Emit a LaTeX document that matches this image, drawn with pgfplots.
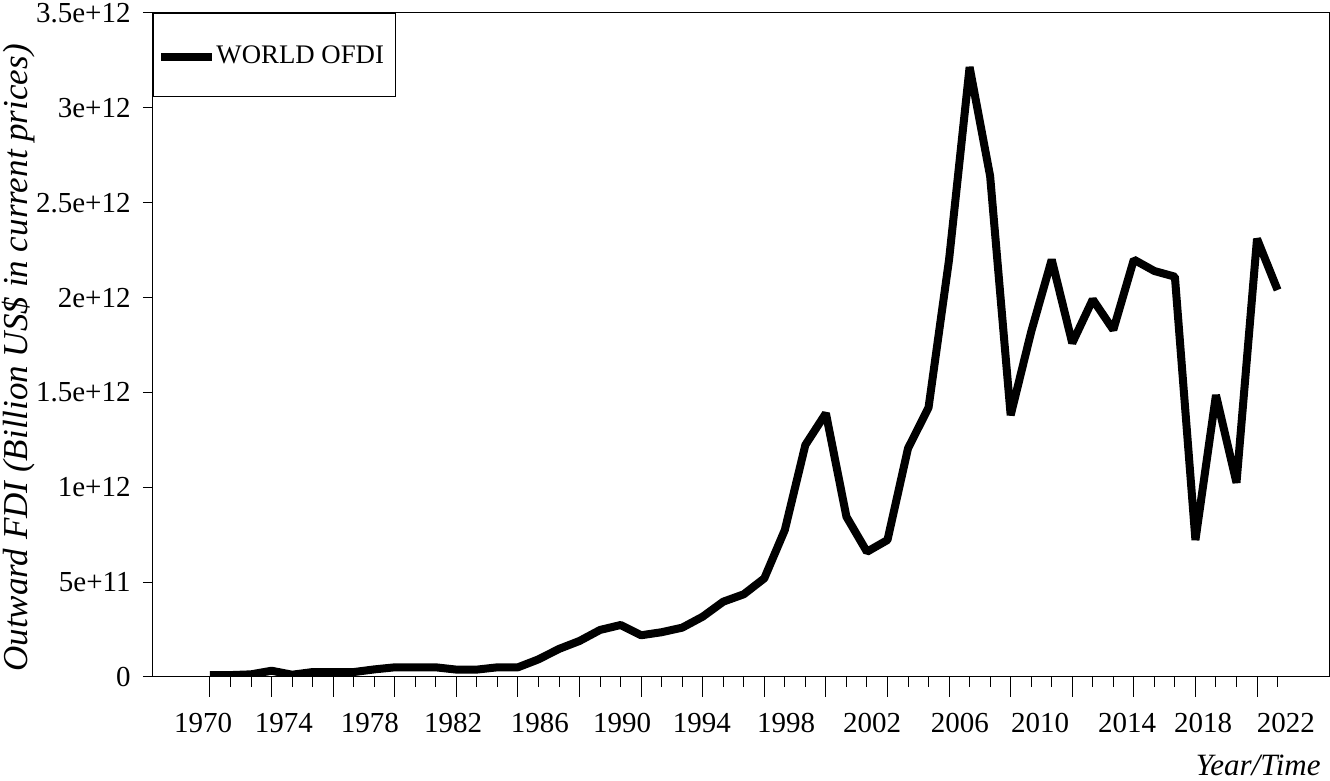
\documentclass[border=0pt]{standalone}
\usepackage{fontspec}
\setmainfont{Liberation Serif}
\usepackage{pgfplots}
\pgfplotsset{compat=1.18}
\begin{document}
\begin{tikzpicture}
\useasboundingbox (-76.5pt,-52pt) rectangle (588.5pt,338.5pt);
% long ticks every three years
\begin{axis}[
  at={(0,0)}, anchor=south west,
  scale only axis, width=588pt, height=332pt,
  xmin=1967.224, xmax=2024.506, ymin=0, ymax=3500,
  axis line style={draw=none},
  ytick=\empty,
  xtick={1970,1973,...,2021},
  xticklabels={},
  xtick pos=bottom,
  tick align=outside,
  major tick length=10pt,
  tick style={black, line width=0.5pt},
]
\end{axis}
\begin{axis}[
  at={(0,0)}, anchor=south west,
  scale only axis, width=588pt, height=332pt,
  xmin=1967.224, xmax=2024.506, ymin=0, ymax=3500,
  axis line style={line width=0.5pt},
  tick align=outside,
  xtick pos=bottom, ytick pos=left,
  tick style={black, line width=0.5pt},
  major tick length=5pt, minor tick length=5pt,
  xtick={1969.66,1973.60,1977.79,1981.84,1986.07,1990.07,1993.96,1998.06,2002.25,2006.53,2010.43,2014.67,2018.37,2022.41},
  xticklabels={1970,1974,1978,1982,1986,1990,1994,1998,2002,2006,2010,2014,2018,2022},
  major x tick style={draw=none},
  minor xtick={1970,1971,...,2022},
  ytick={0,500,...,3500},
  yticklabels={0,5e+11,1e+12,1.5e+12,2e+12,2.5e+12,3e+12,3.5e+12},
  xticklabel style={font=\fontsize{14.5}{17}\selectfont, anchor=north, inner sep=0pt, yshift=-13pt},
  yticklabel style={font=\fontsize{14.5}{17}\selectfont, anchor=east, inner sep=0pt, xshift=-6pt},
  xlabel={Year/Time},
  xlabel style={at={(axis description cs:1,0)}, anchor=base east, inner sep=0pt,
    xshift=-4pt, yshift=-49.5pt, font=\fontsize{15.5}{18}\selectfont\itshape},
  ylabel={Outward FDI (Billion US\$ in current prices)},
  ylabel style={at={(axis description cs:0,0.5)}, anchor=center, inner sep=0pt,
    xshift=-6.5pt, yshift=67pt, font=\fontsize{17.5}{20}\selectfont\itshape},
  legend style={at={(0,1)}, anchor=north west, draw=black, line width=0.5pt,
    inner xsep=2pt, inner ysep=0pt, column sep=0pt,
    font=\fontsize{13.4}{16}\selectfont,
    nodes={inner sep=0pt, text height=25.1pt, text depth=16.4pt}},
  legend image code/.code={\draw[line width=4pt] (0pt,-1.2pt) -- (25.5pt,-1.2pt);},
]
\addplot[black, line width=4pt, line join=bevel] coordinates {
  (1970,10) (1971,10) (1972,14) (1973,33) (1974,12) (1975,26) (1976,26)
  (1977,26) (1978,40) (1979,51) (1980,51) (1981,51) (1982,39) (1983,39)
  (1984,51) (1985,51) (1986,93) (1987,148) (1988,190) (1989,248) (1990,274)
  (1991,220) (1992,236) (1993,260) (1994,318) (1995,397) (1996,436) (1997,520)
  (1998,775) (1999,1223) (2000,1390) (2001,845) (2002,660) (2003,722)
  (2004,1205) (2005,1420) (2006,2200) (2007,3215) (2008,2640) (2009,1380)
  (2010,1820) (2011,2200) (2012,1760) (2013,1990) (2014,1830) (2015,2200)
  (2016,2140) (2017,2110) (2018,722) (2019,1486) (2020,1024) (2021,2310)
  (2022,2040)
};
\addlegendentry{WORLD OFDI\rule{4pt}{0pt}}
\end{axis}
\end{tikzpicture}
\end{document}
